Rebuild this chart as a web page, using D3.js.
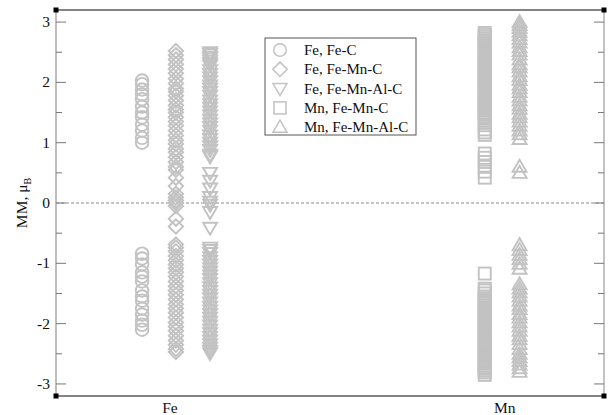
<!DOCTYPE html>
<html>
<head>
<meta charset="utf-8">
<script src="https://cdn.jsdelivr.net/npm/d3@7"></script>
<style>
  body { margin: 0; background: #fff; }
  text { font-family: 'Liberation Serif', 'DejaVu Serif', serif; }
</style>
</head>
<body>
<div id="chart"></div>
<script>
// categories on the x axis (position in data units)
var categories = [{ name: 'Fe', x: 1 }, { name: 'Mn', x: 2 }]

// y tick values
var yMajor = [-3, -2, -1, 0, 1, 2, 3]
var yMinor = [-2.5, -1.5, -0.5, 0.5, 1.5, 2.5]

// column x position for each series (data units)
var seriesX = [0.917, 1.018, 1.12, 1.94, 2.044]
var seriesNames = ['Fe, Fe-C', 'Fe, Fe-Mn-C', 'Fe, Fe-Mn-Al-C', 'Mn, Fe-Mn-C', 'Mn, Fe-Mn-Al-C']
var seriesSymbols = ['circle', 'diamond', 'triangleDown', 'square', 'triangleUp']

// magnetic moments
var feFeC = [1.0, 1.08, 1.2, 1.3, 1.42, 1.5, 1.6, 1.72, 1.8, 1.88, 1.97, 2.03,
  -0.84, -0.92, -1.02, -1.15, -1.22, -1.3, -1.45, -1.55, -1.62, -1.75, -1.85, -1.95, -2.02, -2.1]

var feFeMnC = [2.52, 2.45, 2.38, 2.3, 2.22, 2.15, 2.06, 1.98, 1.9, 1.85, 1.78, 1.7, 1.62, 1.55, 1.5, 1.42,
  1.35, 1.28, 1.2, 1.12, 1.04, 0.98, 0.9, 0.84, 0.76, 0.68, 0.6, 0.55, 0.42, 0.28, 0.15, 0.09, 0.04, 0.0,
  -0.05, -0.26, -0.39,
  -0.69, -0.74, -0.8, -0.88, -0.95, -1.02, -1.08, -1.15, -1.22, -1.3, -1.38, -1.45, -1.52, -1.6, -1.68,
  -1.75, -1.82, -1.9, -1.98, -2.05, -2.12, -2.2, -2.28, -2.35, -2.42, -2.47]

var feFeMnAlC = [2.5, 2.47, 2.43, 2.4, 2.36, 2.32, 2.28, 2.2, 2.14, 2.08, 2.02, 1.95, 1.9, 1.84, 1.78, 1.7,
  1.64, 1.58, 1.52, 1.45, 1.38, 1.32, 1.26, 1.2, 1.12, 1.06, 1.0, 0.94, 0.88, 0.8, 0.77,
  0.5, 0.37, 0.24, 0.1, 0.02, -0.03, -0.15, -0.41,
  -0.74, -0.78, -0.83, -0.9, -0.96, -1.02, -1.08, -1.14, -1.2, -1.26, -1.33, -1.4, -1.46, -1.52, -1.58,
  -1.65, -1.72, -1.78, -1.84, -1.9, -1.97, -2.03, -2.1, -2.16, -2.22, -2.28, -2.34, -2.4, -2.45, -2.49]

var mnFeMnC = [2.82, 2.79, 2.76, 2.73, 2.7, 2.67, 2.64, 2.61, 2.58, 2.55, 2.52, 2.49, 2.46, 2.43, 2.4, 2.37, 2.34, 2.31,
  2.28, 2.25, 2.22, 2.19, 2.16, 2.13, 2.1, 2.07, 2.04, 2.01, 1.98, 1.95, 1.92, 1.89, 1.86, 1.83, 1.8, 1.77, 1.74, 1.71,
  1.68, 1.65, 1.62, 1.59, 1.56, 1.53, 1.5, 1.47, 1.44, 1.4, 1.34, 1.29, 1.22, 1.17, 1.13,
  0.82, 0.75, 0.68, 0.6, 0.52, 0.42,
  -1.17, -1.42, -1.45, -1.5, -1.55, -1.58, -1.61, -1.64, -1.67, -1.7, -1.73, -1.76, -1.79, -1.82, -1.85, -1.88, -1.91,
  -1.94, -1.97, -2.0, -2.03, -2.06, -2.09, -2.12, -2.15, -2.18, -2.21, -2.24, -2.27, -2.3, -2.33, -2.36, -2.39, -2.42,
  -2.45, -2.48, -2.51, -2.54, -2.57, -2.6, -2.63, -2.66, -2.69, -2.72, -2.75, -2.78, -2.81, -2.85]

var mnFeMnAlC = [3.0, 2.95, 2.9, 2.84, 2.78, 2.72, 2.66, 2.58, 2.52, 2.46, 2.38, 2.3, 2.25, 2.18, 2.1, 2.04,
  1.96, 1.9, 1.84, 1.76, 1.7, 1.62, 1.56, 1.48, 1.42, 1.35, 1.28, 1.2, 1.14, 1.06, 0.6, 0.5,
  -0.7, -0.78, -0.86, -0.93, -1.01, -1.09,
  -1.35, -1.42, -1.48, -1.55, -1.62, -1.7, -1.76, -1.84, -1.9, -1.98, -2.05, -2.12, -2.2, -2.26, -2.34,
  -2.42, -2.5, -2.56, -2.62, -2.68, -2.74, -2.8]

var seriesValues = [feFeC, feFeMnC, feFeMnAlC, mnFeMnC, mnFeMnAlC]

var width = 613, height = 415
var margin = { left: 56, right: 9, top: 10, bottom: 19 }
var markColor = '#c2c2c2'

var svg = d3.select('#chart')
  .append('svg')
  .attr('width', width)
  .attr('height', height)

var x = d3.scaleLinear().domain([0.66, 2.296]).range([margin.left, width - margin.right])
var y = d3.scaleLinear().domain([-3.2, 3.2]).range([height - margin.bottom, margin.top])

// symbol path builders, centred on 0,0
var symbolPath = {
  circle: function (g) {
    return g.append('circle').attr('r', 6.3)
  },
  square: function (g) {
    return g.append('rect').attr('x', -6).attr('y', -6).attr('width', 12).attr('height', 12)
  },
  diamond: function (g) {
    return g.append('path').attr('d', 'M0,-7.2L7.2,0L0,7.2L-7.2,0Z')
  },
  triangleDown: function (g) {
    return g.append('path').attr('d', 'M-7,-5L7,-5L0,7Z')
  },
  triangleUp: function (g) {
    return g.append('path').attr('d', 'M-7,5L7,5L0,-7Z')
  }
}

// zero line
svg.append('line')
  .attr('x1', x.range()[0]).attr('x2', x.range()[1])
  .attr('y1', y(0)).attr('y2', y(0))
  .attr('stroke', '#8c8c8c')
  .attr('stroke-width', 1.2)
  .attr('stroke-dasharray', '3,2')

// points
seriesValues.forEach(function (vals, i) {
  var g = svg.append('g').attr('class', 'series' + i)
  vals.forEach(function (v) {
    var p = g.append('g').attr('transform', 'translate(' + x(seriesX[i]) + ',' + y(v) + ')')
    symbolPath[seriesSymbols[i]](p)
      .attr('fill', 'none')
      .attr('stroke', markColor)
      .attr('stroke-width', 1.9)
  })
})

// frame
var x0 = x.range()[0], x1 = x.range()[1], yTop = y.range()[1], yBot = y.range()[0]
svg.append('line').attr('x1', x0).attr('x2', x1).attr('y1', yTop).attr('y2', yTop)
  .attr('stroke', '#5a5a5a').attr('stroke-width', 1.3)
svg.append('line').attr('x1', x0).attr('x2', x1).attr('y1', yBot).attr('y2', yBot)
  .attr('stroke', '#5a5a5a').attr('stroke-width', 1.3)
svg.append('line').attr('x1', x0).attr('x2', x0).attr('y1', yTop).attr('y2', yBot)
  .attr('stroke', '#a8a8a8').attr('stroke-width', 1.5)
svg.append('line').attr('x1', x1).attr('x2', x1).attr('y1', yTop).attr('y2', yBot)
  .attr('stroke', '#b0b0b0').attr('stroke-width', 1.5)

// y ticks, inward on both sides
var tickG = svg.append('g')
yMajor.forEach(function (t) {
  tickG.append('line').attr('x1', x0).attr('x2', x0 + 10).attr('y1', y(t)).attr('y2', y(t))
    .attr('stroke', '#777').attr('stroke-width', 1)
  tickG.append('line').attr('x1', x1).attr('x2', x1 - 10).attr('y1', y(t)).attr('y2', y(t))
    .attr('stroke', '#777').attr('stroke-width', 1)
  tickG.append('text')
    .attr('x', x0 - 6)
    .attr('y', y(t) + 5)
    .attr('text-anchor', 'end')
    .attr('font-size', 15.5)
    .attr('fill', '#111')
    .text(t)
})
yMinor.forEach(function (t) {
  tickG.append('line').attr('x1', x0).attr('x2', x0 + 6).attr('y1', y(t)).attr('y2', y(t))
    .attr('stroke', '#777').attr('stroke-width', 1)
  tickG.append('line').attr('x1', x1).attr('x2', x1 - 6).attr('y1', y(t)).attr('y2', y(t))
    .attr('stroke', '#777').attr('stroke-width', 1)
})

// x category labels
svg.selectAll('.xlab')
  .data(categories)
  .enter()
  .append('text')
  .attr('class', 'xlab')
  .attr('x', function (d) { return x(d.x) })
  .attr('y', yBot + 17)
  .attr('text-anchor', 'middle')
  .attr('font-size', 15.5)
  .attr('fill', '#111')
  .text(function (d) { return d.name })

// corner squares
;[[x0, yTop], [x1, yTop], [x0, yBot], [x1, yBot]].forEach(function (c) {
  svg.append('rect').attr('x', c[0] - 2.5).attr('y', c[1] - 2.5)
    .attr('width', 5).attr('height', 5).attr('fill', '#000')
})

// y axis title
svg.append('text')
  .attr('transform', 'translate(27,' + y(0) + ') rotate(-90)')
  .attr('text-anchor', 'middle')
  .attr('font-size', 15.5)
  .attr('fill', '#111')
  .html('MM, μ<tspan font-size="10" dy="4">B</tspan>')

// legend
var legend = svg.append('g').attr('transform', 'translate(265,38)')
legend.append('rect')
  .attr('width', 151).attr('height', 97)
  .attr('fill', '#fff')
  .attr('stroke', '#555').attr('stroke-width', 1)
seriesNames.forEach(function (name, i) {
  var row = legend.append('g').attr('transform', 'translate(15,' + (12 + i * 19.3) + ')')
  symbolPath[seriesSymbols[i]](row)
    .attr('fill', 'none')
    .attr('stroke', markColor)
    .attr('stroke-width', 1.5)
  row.append('text')
    .attr('x', 24)
    .attr('y', 5)
    .attr('font-size', 15)
    .attr('fill', '#111')
    .text(name)
})
</script>
</body>
</html>
